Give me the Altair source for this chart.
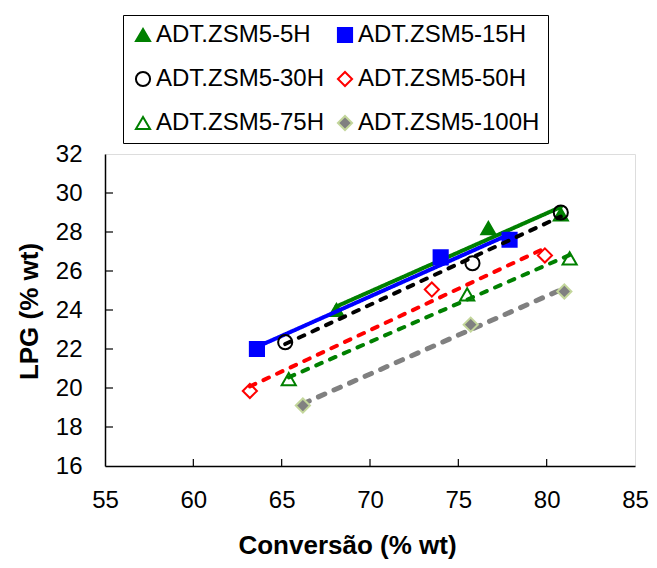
import altair as alt
import pandas as pd

series_names = ["ADT.ZSM5-5H", "ADT.ZSM5-15H", "ADT.ZSM5-30H",
                "ADT.ZSM5-50H", "ADT.ZSM5-75H", "ADT.ZSM5-100H"]

conv_5h = [68.1, 76.7, 80.8]
lpg_5h = [24.0, 28.2, 28.9]
conv_15h = [63.6, 74.0, 77.9]
lpg_15h = [22.0, 26.7, 27.6]
conv_30h = [65.2, 75.8, 80.8]
lpg_30h = [22.35, 26.4, 29.0]
conv_50h = [63.2, 73.5, 79.9]
lpg_50h = [19.85, 25.05, 26.8]
conv_75h = [65.4, 75.5, 81.3]
lpg_75h = [20.45, 24.8, 26.65]
conv_100h = [66.2, 75.7, 81.0]
lpg_100h = [19.1, 23.25, 24.95]

x_ticks = [55, 60, 65, 70, 75, 80, 85]
y_ticks = [16, 18, 20, 22, 24, 26, 28, 30, 32]

all_conv = [conv_5h, conv_15h, conv_30h, conv_50h, conv_75h, conv_100h]
all_lpg = [lpg_5h, lpg_15h, lpg_30h, lpg_50h, lpg_75h, lpg_100h]

rows = []
for name, xs, ys in zip(series_names, all_conv, all_lpg):
    for xv, yv in zip(xs, ys):
        rows.append({"series": name, "conv": xv, "lpg": yv})
df = pd.DataFrame(rows)

FONT = "Liberation Sans"
W, H = 530, 312

x_title = "Conversão (% wt)"
y_title = "LPG (% wt)"

x_scale = alt.Scale(domain=[55, 85], nice=False, zero=False)
y_scale = alt.Scale(domain=[16, 32], nice=False, zero=False)

x_axis = alt.Axis(values=x_ticks, ticks=False, grid=False, labelFontSize=24,
                  labelFont=FONT, labelColor="black", labelPadding=22,
                  domainColor="black", domainWidth=1.5, labelFlush=False,
                  titleFont=FONT, titleFontSize=26, titleFontWeight="bold",
                  titleColor="black", titleX=242, titleY=87,
                  titleBaseline="alphabetic", titleAlign="center")
y_axis = alt.Axis(values=y_ticks, ticks=False, grid=False, labelFontSize=24,
                  labelFont=FONT, labelColor="black", labelPadding=23,
                  domainColor="black", domainWidth=1.5, labelFlush=False,
                  titleFont=FONT, titleFontSize=26, titleFontWeight="bold",
                  titleColor="black", titleX=-76, titleY=157, titleAngle=270,
                  titleBaseline="middle", titleAlign="center")

shape_range = ["triangle-up", "square", "circle", "diamond", "triangle-up", "diamond"]
stroke_range = ["#008000", "#0000FF", "#000000", "#FF0000", "#008000", "#C3D69B"]
fill_range = ["#008000", "#0000FF", "transparent", "transparent", "transparent", "#808080"]

legend = alt.Legend(orient="none", legendX=18, legendY=-139, columns=2,
                    direction="horizontal",
                    labelFont=FONT, labelFontSize=24, labelColor="black",
                    labelLimit=400, labelOffset=1, symbolSize=200,
                    symbolStrokeWidth=2, rowPadding=20, columnPadding=8,
                    padding=8, strokeColor="black", fillColor="white",
                    symbolOpacity=1)

shape_enc = alt.Shape("series:N", title=None,
                      scale=alt.Scale(domain=series_names, range=shape_range),
                      legend=legend)
stroke_enc = alt.Stroke("series:N", title=None,
                        scale=alt.Scale(domain=series_names, range=stroke_range),
                        legend=legend)
fill_enc = alt.Fill("series:N", title=None,
                    scale=alt.Scale(domain=series_names, range=fill_range),
                    legend=legend)

line_styles = {
    "ADT.ZSM5-5H": dict(color="#008000", strokeWidth=4, strokeDash=[1, 0]),
    "ADT.ZSM5-15H": dict(color="#0000FF", strokeWidth=4, strokeDash=[1, 0]),
    "ADT.ZSM5-30H": dict(color="#000000", strokeWidth=4, strokeDash=[6, 9]),
    "ADT.ZSM5-50H": dict(color="#FF0000", strokeWidth=4, strokeDash=[6, 9]),
    "ADT.ZSM5-75H": dict(color="#008000", strokeWidth=4, strokeDash=[6, 9]),
    "ADT.ZSM5-100H": dict(color="#808080", strokeWidth=5, strokeDash=[7, 10]),
}

base = alt.Chart(df)
layers = []
for name in series_names:
    st = line_styles[name]
    line = base.transform_filter(alt.datum.series == name).transform_regression(
        "conv", "lpg", method="linear"
    ).mark_line(color=st["color"], strokeWidth=st["strokeWidth"],
                strokeDash=st["strokeDash"], strokeCap="round").encode(
        x=alt.X("conv:Q", scale=x_scale, axis=x_axis, title=x_title),
        y=alt.Y("lpg:Q", scale=y_scale, axis=y_axis, title=y_title),
    )
    pts = base.transform_filter(alt.datum.series == name).mark_point(
        size=200, strokeWidth=2, opacity=1
    ).encode(
        x=alt.X("conv:Q", scale=x_scale, axis=x_axis, title=x_title),
        y=alt.Y("lpg:Q", scale=y_scale, axis=y_axis, title=y_title),
        shape=shape_enc, stroke=stroke_enc, fill=fill_enc,
    )
    layers += [line, pts]

xt_df = pd.DataFrame({"v": x_ticks[1:-1]})
yt_df = pd.DataFrame({"v": y_ticks[1:-1]})
x_tick_rules = alt.Chart(xt_df).mark_rule(color="black", strokeWidth=1.2).encode(
    x=alt.X("v:Q", scale=x_scale, axis=x_axis, title=x_title),
    y=alt.value(H), y2=alt.value(H - 7),
)
y_tick_rules = alt.Chart(yt_df).mark_rule(color="black", strokeWidth=1.2).encode(
    y=alt.Y("v:Q", scale=y_scale, axis=y_axis, title=y_title),
    x=alt.value(0), x2=alt.value(8),
)

chart = alt.layer(x_tick_rules, y_tick_rules, *layers).properties(
    width=W, height=H,
    autosize=alt.AutoSizeParams(type="none"),
    padding={"left": 97, "top": 146, "right": 14, "bottom": 94},
).configure_view(stroke="#808080", strokeWidth=1.5).configure(background="white")

chart.save("out.html", embed_options={"renderer": "svg", "actions": False})
